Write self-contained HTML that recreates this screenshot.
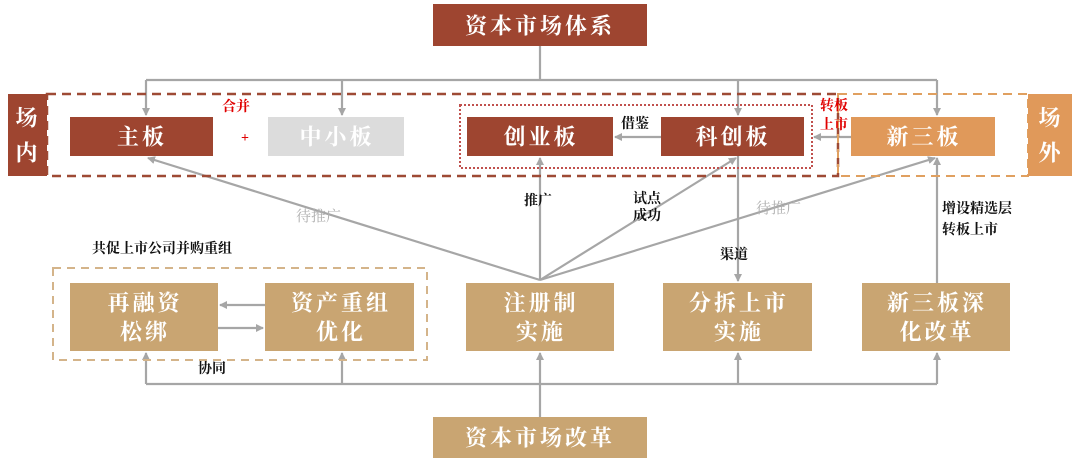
<!DOCTYPE html>
<html><head><meta charset="utf-8"><style>
body{margin:0;background:#fff;}
svg{display:block;font-family:"Liberation Serif","Noto Serif CJK SC",serif;}
.w{fill:#fff;font-size:22px;text-anchor:middle;dominant-baseline:central;letter-spacing:3px;font-weight:bold;}
.s{font-size:14px;font-weight:bold;fill:#111;font-family:"Liberation Serif","Noto Serif CJK SC",serif;}
.g{font-size:15px;fill:#b0b0b0;}
.r{font-size:14px;font-weight:bold;fill:#e00000;font-family:"Liberation Serif","Noto Serif CJK SC",serif;}
</style></head><body>
<svg width="1080" height="461" viewBox="0 0 1080 461">
<defs><marker id="a" markerWidth="8" markerHeight="8" refX="7" refY="4" orient="auto" markerUnits="userSpaceOnUse"><path d="M0,0 L8,4 L0,8 z" fill="#a6a6a6"/></marker></defs>
<g stroke="#a6a6a6" stroke-width="2.2" fill="none">
<path d="M540 46 V80 M146 80 H937"/>
<path d="M146 80 V115" marker-end="url(#a)"/>
<path d="M342 80 V115" marker-end="url(#a)"/>
<path d="M738 80 V115" marker-end="url(#a)"/>
<path d="M937 80 V115" marker-end="url(#a)"/>
<path d="M661 137 H615" marker-end="url(#a)"/>
<path d="M851 137 H814" marker-end="url(#a)"/>
<path d="M540 280 V158" marker-end="url(#a)"/>
<path d="M540 280 L148 158" marker-end="url(#a)"/>
<path d="M540 280 L736 158" marker-end="url(#a)"/>
<path d="M540 280 L935 158" marker-end="url(#a)"/>
<path d="M738 156 V281" marker-end="url(#a)"/>
<path d="M937 283 V158" marker-end="url(#a)"/>
<path d="M265 305 H220" marker-end="url(#a)"/>
<path d="M218 328 H263" marker-end="url(#a)"/>
<path d="M540 417 V353" marker-end="url(#a)"/>
<path d="M146 384 H937"/>
<path d="M146 384 V353" marker-end="url(#a)"/>
<path d="M342 384 V353" marker-end="url(#a)"/>
<path d="M738 384 V353" marker-end="url(#a)"/>
<path d="M937 384 V353" marker-end="url(#a)"/>
</g>
<rect x="47" y="94" width="791" height="82" fill="none" stroke="#9e4a35" stroke-width="2.5" stroke-dasharray="9,6"/>
<rect x="838" y="94" width="190" height="82" fill="none" stroke="#e0a060" stroke-width="2" stroke-dasharray="9,6"/>
<rect x="460" y="105" width="352" height="63" fill="none" stroke="#c0504d" stroke-width="2" stroke-dasharray="2,2"/>
<rect x="53" y="268" width="374" height="92" fill="none" stroke="#d4b48a" stroke-width="2" stroke-dasharray="8,6"/>
<rect x="433" y="4" width="214" height="42" fill="#9e4530"/><text class="w" x="540" y="26">资本市场体系</text>
<rect x="433" y="417" width="214" height="41" fill="#c9a572"/><text class="w" x="540" y="438">资本市场改革</text>
<rect x="8" y="94" width="39" height="82" fill="#9e4530"/><text class="w" x="28" y="118">场</text><text class="w" x="28" y="153">内</text>
<rect x="1028" y="94" width="44" height="82" fill="#e0995a"/><text class="w" x="1051" y="118">场</text><text class="w" x="1051" y="153">外</text>
<rect x="70" y="117" width="143" height="39" fill="#9e4530"/><text class="w" x="142" y="137">主板</text>
<rect x="268" y="117" width="136" height="39" fill="#dcdcdc"/><text class="w" x="337" y="137">中小板</text>
<rect x="467" y="117" width="146" height="39" fill="#9e4530"/><text class="w" x="541" y="137">创业板</text>
<rect x="661" y="117" width="143" height="39" fill="#9e4530"/><text class="w" x="733" y="137">科创板</text>
<rect x="851" y="117" width="144" height="39" fill="#e0995a"/><text class="w" x="924" y="137">新三板</text>
<rect x="70" y="283" width="148" height="68" fill="#c9a572"/><text class="w" x="145" y="303">再融资</text><text class="w" x="145" y="332">松绑</text>
<rect x="265" y="283" width="149" height="68" fill="#c9a572"/><text class="w" x="341" y="303">资产重组</text><text class="w" x="341" y="332">优化</text>
<rect x="466" y="283" width="148" height="68" fill="#c9a572"/><text class="w" x="541" y="303">注册制</text><text class="w" x="541" y="332">实施</text>
<rect x="663" y="283" width="149" height="68" fill="#c9a572"/><text class="w" x="739" y="303">分拆上市</text><text class="w" x="739" y="332">实施</text>
<rect x="862" y="283" width="148" height="68" fill="#c9a572"/><text class="w" x="937" y="303">新三板深</text><text class="w" x="937" y="332">化改革</text>
<text class="r" x="222" y="111">合并</text><text class="r" x="241" y="142" font-size="17">+</text>
<text class="r" x="820" y="110">转板</text><text class="r" x="820" y="129">上市</text>
<text class="s" x="621" y="128">借鉴</text>
<text class="s" x="524" y="205">推广</text>
<text class="s" x="633" y="203">试点</text><text class="s" x="633" y="220">成功</text>
<text class="s" x="720" y="259">渠道</text>
<text class="s" x="942" y="213">增设精选层</text><text class="s" x="942" y="234">转板上市</text>
<text class="s" x="92" y="253">共促上市公司并购重组</text>
<text class="s" x="198" y="373">协同</text>
<text class="g" x="296" y="221">待推广</text>
<text class="g" x="756" y="213">待推广</text>
</svg>
</body></html>
